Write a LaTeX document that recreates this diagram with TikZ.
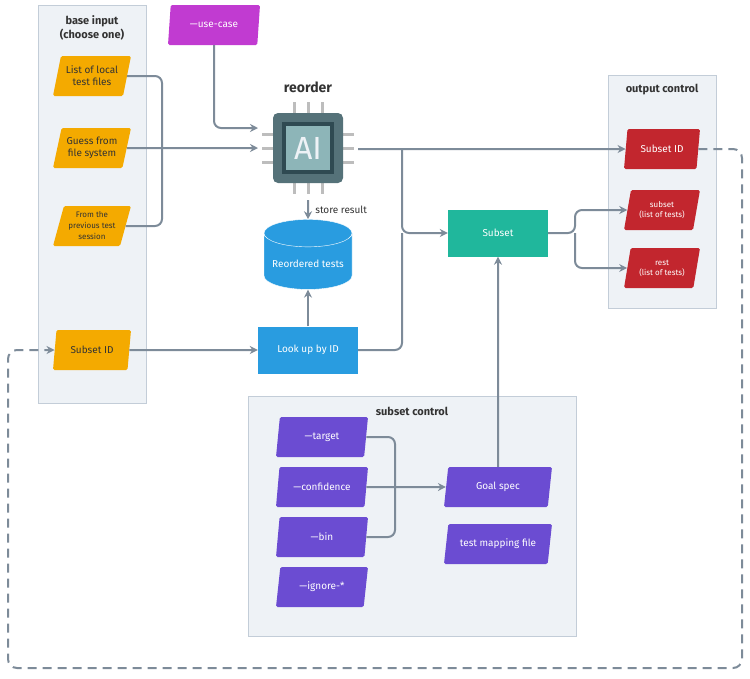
\documentclass[tikz,border=0pt]{standalone}
\usepackage{fontspec}
\setmainfont{Fira Sans}
\usetikzlibrary{shapes.geometric, arrows.meta}
\definecolor{panelFill}{HTML}{EEF2F6}
\definecolor{panelLine}{HTML}{C3CDD8}
\definecolor{wire}{HTML}{7D8B99}
\definecolor{inOrange}{HTML}{F4AA00}
\definecolor{optMagenta}{HTML}{C13BD1}
\definecolor{outRed}{HTML}{C2262E}
\definecolor{ctlPurple}{HTML}{6B4CD2}
\definecolor{subTeal}{HTML}{20B79C}
\definecolor{dbBlue}{HTML}{299CE0}
\definecolor{chipDark}{HTML}{557279}
\definecolor{chipInner}{HTML}{2F4A52}
\definecolor{chipFace}{HTML}{8DB5B8}
\definecolor{pinGray}{HTML}{BDBDBD}
\tikzstyle{panelBox} = [draw=panelLine, fill=panelFill, line width=1pt]
\tikzstyle{panelTitle} = [font=\bfseries\fontsize{11}{14}\selectfont, text=black!80, align=center]
\tikzstyle{paraBox} = [trapezium, trapezium left angle=70, trapezium right angle=110,
	trapezium stretches body, rounded corners=1.5pt, align=center,
	font=\fontsize{10}{12}\selectfont, minimum height=40pt, inner sep=1pt]
\tikzstyle{InBox} = [paraBox, fill=inOrange, text=black!80, minimum width=78pt]
\tikzstyle{OutBox} = [paraBox, fill=outRed, text=white, minimum width=76pt]
\tikzstyle{CtlBox} = [paraBox, fill=ctlPurple, text=white, minimum width=92pt]
\tikzstyle{GoalBox} = [paraBox, fill=ctlPurple, text=white, minimum width=108pt]
\tikzstyle{flatBox} = [shape=rectangle, text=white, font=\fontsize{10}{12}\selectfont,
	minimum width=100pt, minimum height=47pt]
\tikzstyle{normalArrow} = [line width=2pt, -{Stealth[length=8pt, width=8pt]}, draw=wire, rounded corners=7pt]
\tikzstyle{plainWire} = [line width=2pt, draw=wire, rounded corners=7pt]

\begin{document}
\begin{tikzpicture}[x=1pt, y=-1pt]
  \useasboundingbox (0,0) rectangle (750,678);
  % panels
  \draw [panelBox] (38,5) rectangle (146,403);
  \node [panelTitle] at (92,28) {base input\\(choose one)};
  \draw [panelBox] (608,75) rectangle (716,308);
  \node [panelTitle] at (662,90) {output control};
  \draw [panelBox] (248,396) rectangle (576,636);
  \node [panelTitle] at (412,411) {subset control};

  % inputs
  \node (LOCAL) [InBox] at (92,76) {List of local\\test files};
  \node (GUESS) [InBox] at (92,148) {Guess from\\file system};
  \node (PREV) [InBox, font=\fontsize{8}{11}\selectfont] at (92,226) {From the\\previous test\\session};
  \node (INID) [InBox] at (92,350) {Subset ID};
  \node (USECASE) [paraBox, fill=optMagenta, text=white, minimum width=92pt] at (214,25) {—use-case};

  % chip
  \foreach \d in {-14,0,14} {
    \draw [pinGray, line width=3pt] (308+\d,102) -- (308+\d,194);
    \draw [pinGray, line width=3pt] (262,148+\d) -- (354,148+\d);
  }
  \node (AI) [shape=rectangle, fill=chipDark, rounded corners=5pt, minimum size=70pt] at (308,148) {};
  \node [shape=rectangle, fill=chipInner, minimum size=52pt] at (308,148) {};
  \node [shape=rectangle, fill=chipFace, minimum size=44pt, text=panelFill,
    font=\fontsize{32}{32}\selectfont, inner sep=0pt] at (308,148) {AI};
  \node [font=\bfseries\fontsize{14}{16}\selectfont, text=black!80] at (308,87) {reorder};

  % store
  \node (DB) [cylinder, shape border rotate=90, aspect=0.35, fill=dbBlue, draw=white,
    text=white, font=\fontsize{10}{12}\selectfont, minimum width=88pt, minimum height=70pt] at (308,264) {Reordered tests};
  \node (LOOKUP) [flatBox, fill=dbBlue] at (308,350) {Look up by ID};
  \node (SUBSET) [flatBox, fill=subTeal] at (498,233) {Subset};

  % outputs
  \node (OUTID) [OutBox] at (662,149) {Subset ID};
  \node (OUTSUB) [OutBox, font=\fontsize{8}{10}\selectfont] at (662,210) {subset\\(list of tests)};
  \node (OUTREST) [OutBox, font=\fontsize{8}{10}\selectfont] at (662,268) {rest\\(list of tests)};

  % subset control
  \node (TARGET) [CtlBox] at (322,437) {—target};
  \node (CONF) [CtlBox] at (322,487) {—confidence};
  \node (BIN) [CtlBox] at (322,537) {—bin};
  \node (IGNORE) [CtlBox] at (322,587) {—ignore-*};
  \node (GOAL) [GoalBox] at (498,487) {Goal spec};
  \node (MAPPING) [GoalBox] at (498,544) {test mapping file};

  \draw [plainWire] (LOCAL.east) -| (162,148);
  \draw [plainWire] (PREV.east) -| (162,148);
  \draw [normalArrow] (GUESS.east) -- (258,148);
  \draw [normalArrow] (USECASE.south) |- (258,128);
  \draw [normalArrow] (358,149) -- (OUTID.west);
  \draw [normalArrow] (402,149) |- (SUBSET.west);
  \draw [plainWire] (LOOKUP.east) -| (402,233);
  \draw [normalArrow] (308,200) -- node[right, xshift=3pt, font=\fontsize{10}{12}\selectfont, text=black!80] {store result} (DB.north);
  \draw [normalArrow] (LOOKUP.north) -- (DB.south);
  \draw [normalArrow] (INID.east) -- (LOOKUP.west);
  \draw [normalArrow] (SUBSET.east) -- (575,233) |- (OUTSUB.west);
  \draw [normalArrow] (575,233) |- (OUTREST.west);
  \draw [normalArrow] (GOAL.north) -- (SUBSET.south);
  \draw [plainWire] (TARGET.east) -| (395,487);
  \draw [plainWire] (BIN.east) -| (395,487);
  \draw [normalArrow] (CONF.east) -- (GOAL.west);
  \draw [normalArrow, dash pattern=on 9pt off 6pt, rounded corners=9pt]
    (OUTID.east) -- (742,149) -- (742,668) -- (8,668) -- (8,350) -- (INID.west);
\end{tikzpicture}
\end{document}
